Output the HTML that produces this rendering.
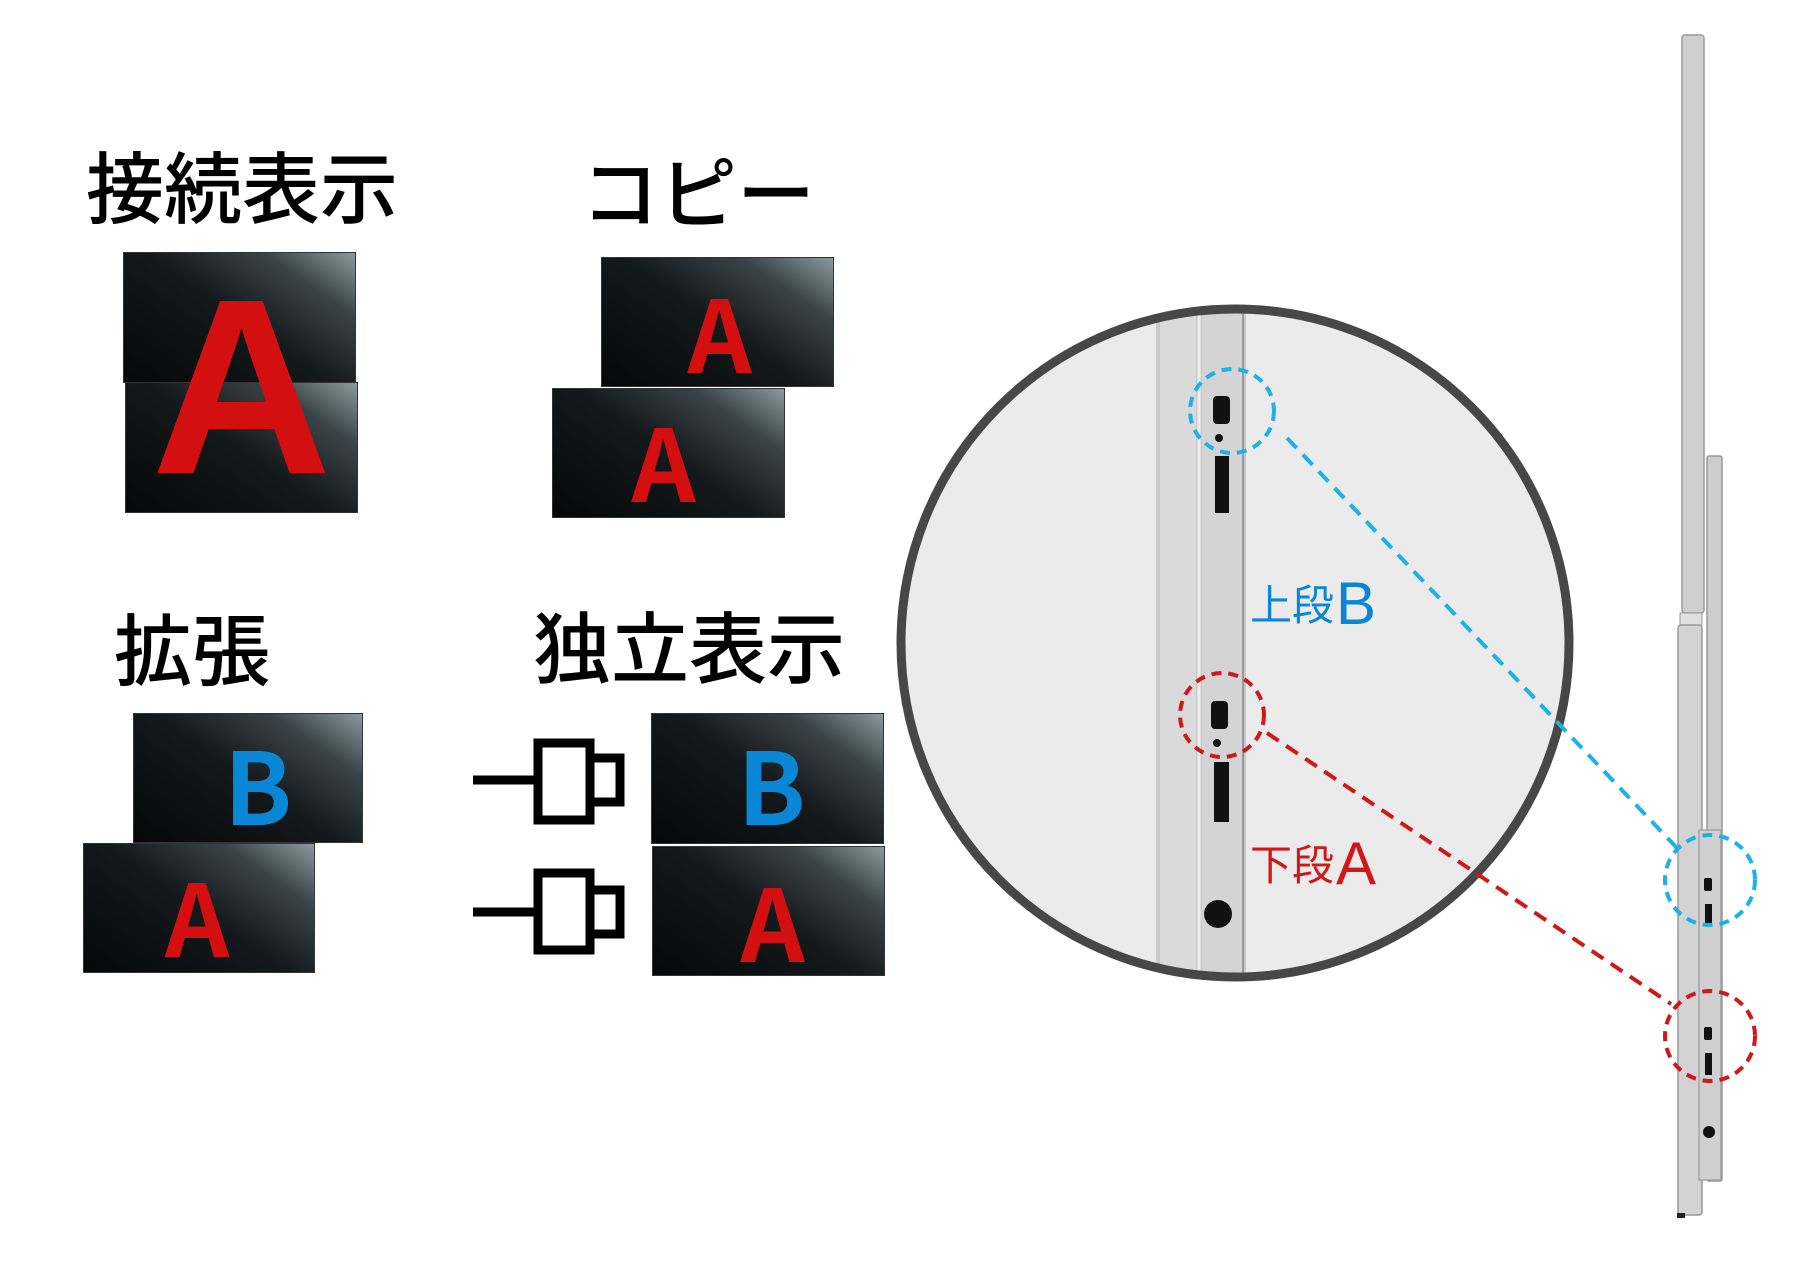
<!DOCTYPE html>
<html><head><meta charset="utf-8"><style>
body{margin:0;width:1800px;height:1276px;background:#fff;position:relative;overflow:hidden;font-family:"Liberation Sans","Noto Sans CJK JP",sans-serif}
.t{position:absolute;font-family:"Noto Sans CJK JP",sans-serif;font-weight:500;font-size:78px;line-height:1;color:#000;white-space:nowrap}
.s{position:absolute;background:linear-gradient(215deg,#8a9a9e 0%,#3a4448 22%,#14191b 50%,#060708 100%);border:1px solid #333;box-sizing:border-box;overflow:hidden}
.L{position:absolute;font-family:"Noto Sans CJK JP","Liberation Sans",sans-serif;font-weight:700;line-height:1;text-align:center;width:100%}
</style></head><body>
<div class="t" style="left:86px;top:145px">接続表示</div>
<div class="t" style="left:581px;top:150px">コピー</div>
<div class="t" style="left:114px;top:607px">拡張</div>
<div class="t" style="left:533px;top:605px">独立表示</div>

<div class="s" style="left:123px;top:252px;width:233px;height:131px"></div>
<div class="s" style="left:125px;top:382px;width:233px;height:131px"></div>
<div style="position:absolute;left:125px;top:252px;width:233px;height:261px;overflow:hidden"><div class="L" style="top:10px;font-size:250px;color:#d40f0f;font-family:'Liberation Sans',sans-serif">A</div></div>

<div class="s" style="left:601px;top:257px;width:233px;height:130px"><div class="L" style="top:22px;font-size:100px;color:#d40f0f;left:2px">A</div></div>
<div class="s" style="left:552px;top:388px;width:233px;height:130px"><div class="L" style="top:20px;font-size:100px;color:#d40f0f;left:-5px">A</div></div>

<div class="s" style="left:133px;top:713px;width:230px;height:130px"><div class="L" style="top:18px;font-size:100px;color:#0a86d6;left:10px">B</div></div>
<div class="s" style="left:83px;top:843px;width:232px;height:130px"><div class="L" style="top:20px;font-size:100px;color:#d40f0f;left:-2px">A</div></div>

<div class="s" style="left:651px;top:713px;width:233px;height:131px"><div class="L" style="top:18px;font-size:100px;color:#0a86d6;left:4px">B</div></div>
<div class="s" style="left:652px;top:846px;width:233px;height:130px"><div class="L" style="top:22px;font-size:100px;color:#d40f0f;left:4px">A</div></div>

<svg width="1800" height="1276" style="position:absolute;left:0;top:0">
<g fill="#fff" stroke="#000" stroke-width="9">
<line x1="473" y1="780" x2="534" y2="780"/><rect x="538" y="743" width="52" height="77"/><rect x="590" y="758" width="30" height="44"/>
<line x1="473" y1="912" x2="534" y2="912"/><rect x="538" y="873" width="52" height="77"/><rect x="590" y="890" width="30" height="44"/>
</g>
<defs><clipPath id="c"><circle cx="1235" cy="643" r="334"/></clipPath></defs>
<circle cx="1235" cy="643" r="334" fill="#ebebeb"/>
<g clip-path="url(#c)" transform="translate(-6,0)">
<rect x="1162" y="290" width="90" height="720" fill="#c9c9c9"/>
<rect x="1166" y="290" width="36" height="720" fill="#dadada"/>
<rect x="1208" y="290" width="40" height="720" fill="#d4d4d4"/>
<line x1="1205" y1="290" x2="1205" y2="1010" stroke="#eee" stroke-width="3"/>
<line x1="1249" y1="290" x2="1249" y2="1010" stroke="#999" stroke-width="2"/>
<rect x="1219" y="396" width="17" height="28" rx="4" fill="#111"/>
<circle cx="1225" cy="438" r="4" fill="#111"/>
<rect x="1221" y="456" width="14" height="57" fill="#111"/>
<rect x="1217" y="701" width="17" height="28" rx="4" fill="#111"/>
<circle cx="1223" cy="743" r="4" fill="#111"/>
<rect x="1220" y="762" width="15" height="60" fill="#111"/>
<circle cx="1224" cy="914" r="14" fill="#111"/>
</g>
<circle cx="1235" cy="643" r="334" fill="none" stroke="#474747" stroke-width="9"/>
<circle cx="1232" cy="411" r="42" fill="none" stroke="#1bb2e6" stroke-width="4" stroke-dasharray="10 7"/>
<circle cx="1222" cy="715" r="42" fill="none" stroke="#d01818" stroke-width="4" stroke-dasharray="10 7"/>
<line x1="1287" y1="438" x2="1677" y2="848" stroke="#1bb2e6" stroke-width="4" stroke-dasharray="14 9"/>
<line x1="1267" y1="733" x2="1671" y2="1004" stroke="#d01818" stroke-width="4" stroke-dasharray="14 9"/>
<text x="1250" y="620" font-family="Noto Sans CJK JP,sans-serif" font-size="42" fill="#0a86d6">上段</text>
<text x="1336" y="624" font-family="Liberation Sans,sans-serif" font-size="60" fill="#0a86d6">B</text>
<text x="1250" y="880" font-family="Noto Sans CJK JP,sans-serif" font-size="42" fill="#d01818">下段</text>
<text x="1336" y="884" font-family="Liberation Sans,sans-serif" font-size="60" fill="#d01818">A</text>
<g transform="translate(-9,0)">
<rect x="1691" y="35" width="22" height="578" rx="3" fill="#cfcfcf" stroke="#9a9a9a" stroke-width="1.5"/>
<rect x="1689" y="613" width="22" height="12" fill="#e0e0e0" stroke="#999"/>
<rect x="1716" y="456" width="15" height="725" rx="2" fill="#cdcdcd" stroke="#999" stroke-width="1.5"/>
<rect x="1687" y="625" width="24" height="590" rx="3" fill="#d3d3d3" stroke="#999" stroke-width="1.5"/>
<rect x="1708" y="830" width="22" height="350" fill="#d0d0d0" stroke="#999" stroke-width="1.2"/>
<rect x="1713" y="878" width="8" height="13" rx="2" fill="#111"/>
<rect x="1714" y="904" width="7" height="20" fill="#111"/>
<rect x="1713" y="1027" width="8" height="13" rx="2" fill="#111"/>
<rect x="1714" y="1053" width="7" height="22" fill="#111"/>
<circle cx="1718" cy="1132" r="6" fill="#111"/>
<rect x="1686" y="1213" width="8" height="5" fill="#222"/>
<circle cx="1719" cy="880" r="45" fill="none" stroke="#1bb2e6" stroke-width="4" stroke-dasharray="10 7"/>
<circle cx="1719" cy="1036" r="45" fill="none" stroke="#d01818" stroke-width="4" stroke-dasharray="10 7"/>
</g>
</svg>
</body></html>
